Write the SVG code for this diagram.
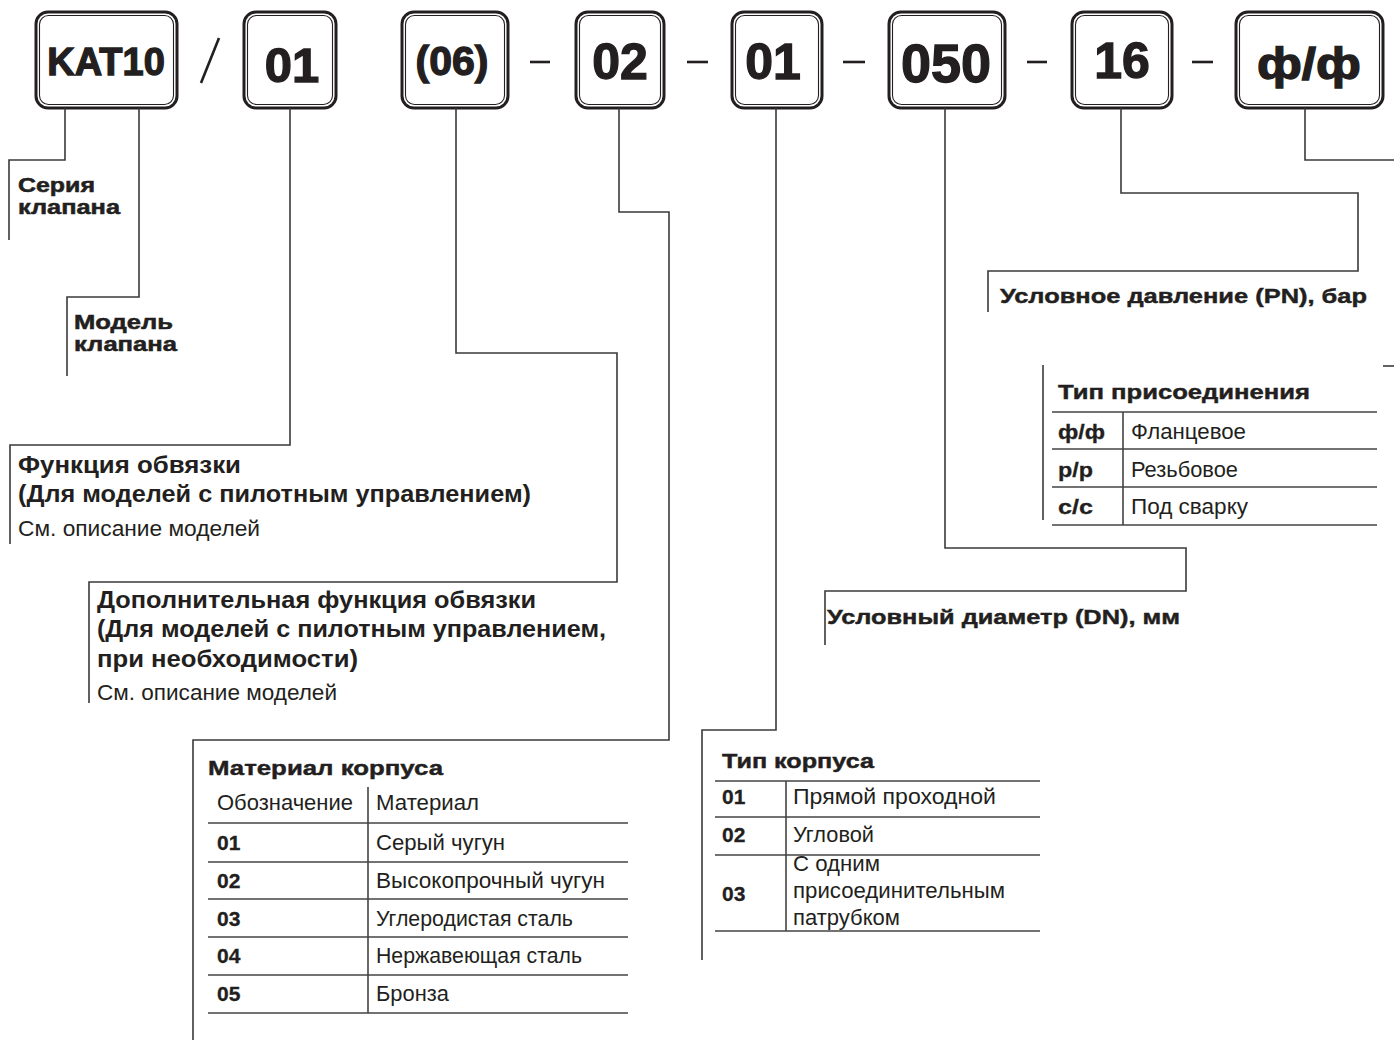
<svg xmlns="http://www.w3.org/2000/svg" width="1394" height="1041" viewBox="0 0 1394 1041">
<style>
.bo{fill:none;stroke:#231f20;stroke-width:3}
.bi{fill:none;stroke:#231f20;stroke-width:1.1}
.bt{font-family:"Liberation Sans",Arial,sans-serif;font-weight:bold;fill:#231f20;stroke:#231f20;stroke-width:1.3;text-anchor:middle}
.sep{stroke:#231f20;stroke-width:2.6;fill:none}
.con{fill:none;stroke:#3a3a3a;stroke-width:1.6}
.tl{stroke:#444;stroke-width:1.6;fill:none}
.wl{font-family:"Liberation Sans",Arial,sans-serif;font-weight:bold;font-size:21px;fill:#231f20;stroke:#231f20;stroke-width:0.45}
.ws{font-family:"Liberation Sans",Arial,sans-serif;font-weight:bold;font-size:19.5px;fill:#231f20;stroke:#231f20;stroke-width:0.5}
.nb{font-family:"Liberation Sans",Arial,sans-serif;font-weight:bold;font-size:24px;fill:#231f20}
.rg{font-family:"Liberation Sans",Arial,sans-serif;font-size:22px;fill:#231f20}
.tr{font-family:"Liberation Sans",Arial,sans-serif;font-size:21.5px;fill:#231f20}
.tb{font-family:"Liberation Sans",Arial,sans-serif;font-weight:bold;font-size:21px;fill:#231f20;stroke:#231f20;stroke-width:0.3}
</style>
<rect width="1394" height="1041" fill="#ffffff"/>

<g id="box-kat10">
<rect class="bo" x="36" y="12" width="141" height="96" rx="12"/>
<rect class="bi" x="39.5" y="15.5" width="134" height="89" rx="9"/>
<text class="bt" x="106" y="75" font-size="38">KAT10</text>
</g>
<g id="box-model">
<rect class="bo" x="244" y="12" width="92" height="96" rx="12"/>
<rect class="bi" x="247.5" y="15.5" width="85" height="89" rx="9"/>
<text class="bt" x="292" y="82" font-size="49">01</text>
</g>
<g id="box-func">
<rect class="bo" x="402" y="12" width="106" height="96" rx="12"/>
<rect class="bi" x="405.5" y="15.5" width="99" height="89" rx="9"/>
<text class="bt" x="452" y="75" font-size="41">(06)</text>
</g>
<g id="box-material">
<rect class="bo" x="576" y="12" width="88" height="96" rx="12"/>
<rect class="bi" x="579.5" y="15.5" width="81" height="89" rx="9"/>
<text class="bt" x="620" y="79" font-size="50">02</text>
</g>
<g id="box-body">
<rect class="bo" x="732" y="12" width="90" height="96" rx="12"/>
<rect class="bi" x="735.5" y="15.5" width="83" height="89" rx="9"/>
<text class="bt" x="773" y="79" font-size="50">01</text>
</g>
<g id="box-dn">
<rect class="bo" x="889" y="12" width="116" height="96" rx="12"/>
<rect class="bi" x="892.5" y="15.5" width="109" height="89" rx="9"/>
<text class="bt" x="946" y="82" font-size="54">050</text>
</g>
<g id="box-pn">
<rect class="bo" x="1072" y="12" width="100" height="96" rx="12"/>
<rect class="bi" x="1075.5" y="15.5" width="93" height="89" rx="9"/>
<text class="bt" x="1122" y="78" font-size="50">16</text>
</g>
<g id="box-conn">
<rect class="bo" x="1236" y="12" width="147" height="96" rx="12"/>
<rect class="bi" x="1239.5" y="15.5" width="140" height="89" rx="9"/>
<text class="bt" x="1309" y="79" font-size="44" textLength="104" lengthAdjust="spacingAndGlyphs">ф/ф</text>
</g>

<g id="separators">
<line class="sep" x1="219" y1="38" x2="201" y2="83"/>
<line class="sep" x1="530" y1="62" x2="550" y2="62"/>
<line class="sep" x1="687" y1="62" x2="708" y2="62"/>
<line class="sep" x1="843" y1="62" x2="865" y2="62"/>
<line class="sep" x1="1027" y1="62" x2="1047" y2="62"/>
<line class="sep" x1="1192" y1="62" x2="1213" y2="62"/>
</g>

<g id="connectors">
<path class="con" d="M65,108 V160 H9 V240"/>
<path class="con" d="M139,108 V297 H67 V376"/>
<path class="con" d="M290,108 V445 H10 V544"/>
<path class="con" d="M456,108 V353 H617 V582 H89 V703"/>
<path class="con" d="M619,108 V212 H669 V740 H193 V1040"/>
<path class="con" d="M776,108 V730 H702 V960"/>
<path class="con" d="M945,108 V548 H1186 V591 H825 V645"/>
<path class="con" d="M1121,108 V193 H1358 V271 H988 V312"/>
<path class="con" d="M1305,108 V160 H1394"/>
<path class="con" d="M1383,366 H1394"/>
<path class="con" d="M1043,365 V520"/>
</g>

<g id="label-series">
<text class="ws"><tspan x="18" y="192" textLength="77" lengthAdjust="spacingAndGlyphs">Серия</tspan><tspan x="18" y="214" textLength="102" lengthAdjust="spacingAndGlyphs">клапана</tspan></text>
</g>
<g id="label-model">
<text class="ws"><tspan x="74" y="329" textLength="99" lengthAdjust="spacingAndGlyphs">Модель</tspan><tspan x="74" y="351" textLength="103" lengthAdjust="spacingAndGlyphs">клапана</tspan></text>
</g>
<g id="label-func">
<text class="nb"><tspan x="18" y="473" textLength="223" lengthAdjust="spacingAndGlyphs">Функция обвязки</tspan><tspan x="18" y="502" textLength="513" lengthAdjust="spacingAndGlyphs">(Для моделей с пилотным управлением)</tspan></text>
<text class="rg" x="18" y="536" textLength="242" lengthAdjust="spacingAndGlyphs">См. описание моделей</text>
</g>
<g id="label-addfunc">
<text class="nb"><tspan x="97" y="608" textLength="439" lengthAdjust="spacingAndGlyphs">Дополнительная функция обвязки</tspan><tspan x="97" y="637" textLength="509" lengthAdjust="spacingAndGlyphs">(Для моделей с пилотным управлением,</tspan><tspan x="97" y="667" textLength="261" lengthAdjust="spacingAndGlyphs">при необходимости)</tspan></text>
<text class="rg" x="97" y="700" textLength="240" lengthAdjust="spacingAndGlyphs">См. описание моделей</text>
</g>
<g id="label-pn">
<text class="wl" x="1000" y="303" textLength="367" lengthAdjust="spacingAndGlyphs">Условное давление (PN), бар</text>
</g>
<g id="label-dn">
<text class="wl" x="827" y="624" textLength="353" lengthAdjust="spacingAndGlyphs">Условный диаметр (DN), мм</text>
</g>

<g id="table-connection">
<text class="wl" x="1058" y="399" textLength="252" lengthAdjust="spacingAndGlyphs">Тип присоединения</text>
<path class="tl" d="M1052,412 H1377 M1052,449 H1377 M1052,487 H1377 M1052,525 H1377 M1123,412 V525"/>
<text class="tb" x="1058" y="439" textLength="47" lengthAdjust="spacingAndGlyphs">ф/ф</text>
<text class="tr" x="1131" y="439" textLength="115" lengthAdjust="spacingAndGlyphs">Фланцевое</text>
<text class="tb" x="1058" y="477" textLength="35" lengthAdjust="spacingAndGlyphs">р/р</text>
<text class="tr" x="1131" y="477" textLength="107" lengthAdjust="spacingAndGlyphs">Резьбовое</text>
<text class="tb" x="1058" y="514" textLength="35" lengthAdjust="spacingAndGlyphs">с/с</text>
<text class="tr" x="1131" y="514" textLength="117" lengthAdjust="spacingAndGlyphs">Под сварку</text>
</g>

<g id="table-material">
<text class="wl" x="208" y="775" textLength="235" lengthAdjust="spacingAndGlyphs">Материал корпуса</text>
<path class="tl" d="M208,823 H628 M208,862 H628 M208,899 H628 M208,937 H628 M208,975 H628 M208,1013 H628 M368,787 V1013"/>
<text class="tr" x="217" y="810" textLength="136" lengthAdjust="spacingAndGlyphs">Обозначение</text>
<text class="tr" x="376" y="810" textLength="103" lengthAdjust="spacingAndGlyphs">Материал</text>
<text class="tb" x="217" y="850">01</text>
<text class="tr" x="376" y="850" textLength="129" lengthAdjust="spacingAndGlyphs">Серый чугун</text>
<text class="tb" x="217" y="888">02</text>
<text class="tr" x="376" y="888" textLength="229" lengthAdjust="spacingAndGlyphs">Высокопрочный чугун</text>
<text class="tb" x="217" y="926">03</text>
<text class="tr" x="376" y="926" textLength="197" lengthAdjust="spacingAndGlyphs">Углеродистая сталь</text>
<text class="tb" x="217" y="963">04</text>
<text class="tr" x="376" y="963" textLength="206" lengthAdjust="spacingAndGlyphs">Нержавеющая сталь</text>
<text class="tb" x="217" y="1001">05</text>
<text class="tr" x="376" y="1001" textLength="73" lengthAdjust="spacingAndGlyphs">Бронза</text>
</g>

<g id="table-body">
<text class="wl" x="722" y="768" textLength="152" lengthAdjust="spacingAndGlyphs">Тип корпуса</text>
<path class="tl" d="M715,781 H1040 M715,817 H1040 M715,855 H1040 M715,931 H1040 M786,781 V931"/>
<text class="tb" x="722" y="804">01</text>
<text class="tr" x="793" y="804" textLength="203" lengthAdjust="spacingAndGlyphs">Прямой проходной</text>
<text class="tb" x="722" y="842">02</text>
<text class="tr" x="793" y="842" textLength="81" lengthAdjust="spacingAndGlyphs">Угловой</text>
<text class="tb" x="722" y="901">03</text>
<text class="tr"><tspan x="793" y="871" textLength="87" lengthAdjust="spacingAndGlyphs">С одним</tspan><tspan x="793" y="898" textLength="212" lengthAdjust="spacingAndGlyphs">присоединительным</tspan><tspan x="793" y="925" textLength="107" lengthAdjust="spacingAndGlyphs">патрубком</tspan></text>
</g>
</svg>
